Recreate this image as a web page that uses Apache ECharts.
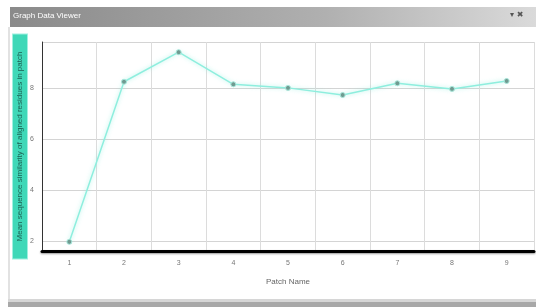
<!DOCTYPE html>
<html>
<head>
<meta charset="utf-8">
<script src="https://cdn.jsdelivr.net/npm/echarts@6/dist/echarts.min.js"></script>
<style>
  html, body { margin: 0; padding: 0; background: #fff; }
  #main { width: 536px; height: 307px; }
</style>
</head>
<body>
<div id="main"></div>
<script>
// data
var patchNames = ['1', '2', '3', '4', '5', '6', '7', '8', '9'];
var scores = [1.96, 8.24, 9.4, 8.14, 8.0, 7.72, 8.18, 7.96, 8.27];
var yMin = 1.6;
var yMax = 9.8;

var myChart = echarts.init(document.getElementById('main'));

var option = {
    animation: false,
    backgroundColor: '#fff',
    textStyle: { fontFamily: 'Liberation Sans' },
    grid: {
        left: 42,
        right: 2,
        top: 42,
        bottom: 56,
        outerBoundsMode: 'none'
    },
    graphic: [
        // window title bar
        {
            type: 'rect',
            shape: { x: 10, y: 7, width: 526, height: 20 },
            style: {
                fill: new echarts.graphic.LinearGradient(0, 0, 1, 0, [
                    { offset: 0, color: '#8a8a8a' },
                    { offset: 0.6, color: '#b0b0b0' },
                    { offset: 1, color: '#dadada' }
                ])
            },
            silent: true
        },
        {
            type: 'text',
            left: 13, top: 12,
            style: { text: 'Graph Data Viewer', fill: '#fff', font: '8px Liberation Sans' },
            silent: true
        },
        {
            type: 'text',
            left: 510, top: 11,
            style: { text: '▾ ✖', fill: '#555', font: 'bold 8px DejaVu Sans' },
            silent: true
        },
        // left window border
        {
            type: 'rect',
            shape: { x: 8, y: 27, width: 2, height: 272 },
            style: { fill: '#e2e2e2' },
            silent: true
        },
        // bottom status bar
        {
            type: 'rect',
            shape: { x: 8, y: 299, width: 528, height: 3 },
            style: { fill: '#d6d6d6' },
            silent: true
        },
        {
            type: 'rect',
            shape: { x: 8, y: 302, width: 528, height: 5 },
            style: { fill: '#a8a8a8' },
            silent: true
        }
    ],
    xAxis: {
        type: 'category',
        data: patchNames,
        boundaryGap: true,
        name: 'Patch Name',
        nameLocation: 'middle',
        nameGap: 27,
        nameMoveOverlap: false,
        nameTextStyle: { color: '#666', fontSize: 8 },
        axisLine: { lineStyle: { color: '#000', width: 3, shadowColor: 'rgba(0,0,0,0.4)', shadowBlur: 2, shadowOffsetY: 1 } },
        axisTick: { show: false },
        axisLabel: { color: '#777', fontSize: 7, margin: 9 },
        splitLine: { show: true, lineStyle: { color: '#dcdcdc', width: 1 } }
    },
    yAxis: {
        type: 'value',
        min: yMin,
        max: yMax,
        name: 'Mean sequence similarity of aligned residues in patch',
        nameLocation: 'middle',
        nameRotate: 90,
        nameGap: 15,
        nameMoveOverlap: false,
        nameTextStyle: {
            color: '#1d5e52',
            fontSize: 8,
            backgroundColor: '#3fd8b8',
            borderColor: '#9ff0e0',
            borderWidth: 1,
            padding: [3, 17, 3, 17]
        },
        axisLine: { show: true, lineStyle: { color: '#333', width: 1 } },
        axisTick: { show: false },
        axisLabel: { color: '#777', fontSize: 7, margin: 8, showMinLabel: false, showMaxLabel: false },
        splitLine: { show: true, lineStyle: { color: '#d4d4d4', width: 1 } }
    },
    series: [
        {
            type: 'line',
            data: scores,
            symbol: 'circle',
            symbolSize: 5,
            lineStyle: {
                color: '#8eeede',
                width: 1.5,
                shadowColor: 'rgba(120,235,215,0.6)',
                shadowBlur: 4
            },
            itemStyle: {
                color: '#6f9a90',
                borderColor: '#a8e8dc',
                borderWidth: 1
            }
        }
    ]
};

myChart.setOption(option);
window.addEventListener("resize", function () {
    myChart.resize();
});
</script>
</body>
</html>
